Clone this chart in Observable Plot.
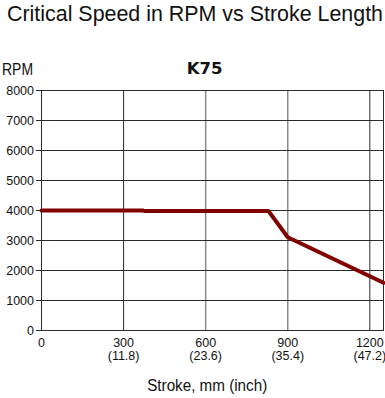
<!DOCTYPE html>
<html>
<head>
<meta charset="utf-8">
<script src="https://cdn.jsdelivr.net/npm/d3@7"></script>
<script src="https://cdn.jsdelivr.net/npm/@observablehq/plot@0.6"></script>
<style>
  html, body { margin: 0; padding: 0; background: #fff; }
</style>
</head>
<body>
<div id="chart"></div>
<script>
// Data
const strokeMm = [0, 373, 374, 830, 900, 1250];
const rpm = [4000, 4000, 3980, 3980, 3110, 1590];

const xTicks = [0, 300, 600, 900, 1200];
const xTickLabels = ["0", "300\n(11.8)", "600\n(23.6)", "900\n(35.4)", "1200\n(47.2)"];
const yTicks = [0, 1000, 2000, 3000, 4000, 5000, 6000, 7000, 8000];
const darkGridX = [300, 1200];
const lightGridX = [600, 900];

const titleText = "Critical Speed in RPM vs Stroke Length";
const subTitle = "K75";
const yLabel = "RPM";
const xLabel = "Stroke, mm (inch)";

const data = strokeMm.map((x, i) => ({x, y: rpm[i]}));

const FONT = "'Liberation Sans', Arial, sans-serif";

const chart = Plot.plot({
  width: 385,
  height: 398,
  marginTop: 90,
  marginLeft: 41,
  marginRight: 2,
  marginBottom: 68,
  style: {fontFamily: FONT, fontSize: "12.5px", color: "#111", background: "#fff"},
  x: {domain: [0, 1250]},
  y: {domain: [0, 8000]},
  marks: [
    Plot.gridX(darkGridX, {stroke: "#2a2a2a", strokeOpacity: 1, strokeWidth: 1}),
    Plot.gridX(lightGridX, {stroke: "#8a8a8a", strokeOpacity: 1, strokeWidth: 1.5}),
    Plot.gridY(yTicks, {stroke: "#2a2a2a", strokeOpacity: 1, strokeWidth: 1}),
    Plot.frame({stroke: "#2a2a2a", strokeWidth: 1}),
    Plot.axisY({ticks: yTicks, tickFormat: d => String(d), tickSize: 5, tickPadding: 2.5, label: null, stroke: "#2a2a2a", fontSize: 12.5, fill: "#111"}),
    Plot.axisX({ticks: xTicks, tickFormat: d => xTickLabels[xTicks.indexOf(d)], tickSize: 0, tickPadding: 7, label: null, fontSize: 12.5, lineHeight: 1.07, fill: "#111"}),
    Plot.line(data, {x: "x", y: "y", stroke: "#800000", strokeWidth: 4, strokeLinejoin: "miter"}),
    Plot.text([titleText], {className: "t-title", frameAnchor: "top-left", dx: 153.5, dy: -76.5, textAnchor: "middle", lineAnchor: "middle", fontSize: 22.5, fill: "#111"}),
    Plot.text([subTitle], {className: "t-sub", frameAnchor: "top-left", dx: 163, dy: -21.7, textAnchor: "middle", lineAnchor: "middle", fontSize: 16.5, fontWeight: "bold", fill: "#111", fontFamily: "'DejaVu Sans', Verdana, sans-serif"}),
    Plot.text([yLabel], {className: "t-ylab", frameAnchor: "top-left", dx: -39.5, dy: -21.3, textAnchor: "start", lineAnchor: "middle", fontSize: 17, fill: "#111"}),
    Plot.text([xLabel], {className: "t-xlab", frameAnchor: "bottom-left", dx: 165.7, dy: 55, textAnchor: "middle", lineAnchor: "middle", fontSize: 16, fill: "#111"})
  ]
});
document.getElementById("chart").appendChild(chart);

// fit the condensed-looking texts to the reference widths
const fit = (cls, len) => d3.select(chart).selectAll(`g.${cls} text`)
  .attr("textLength", len).attr("lengthAdjust", "spacingAndGlyphs");
fit("t-title", 376);
fit("t-ylab", 31);
fit("t-xlab", 120);
</script>
</body>
</html>
